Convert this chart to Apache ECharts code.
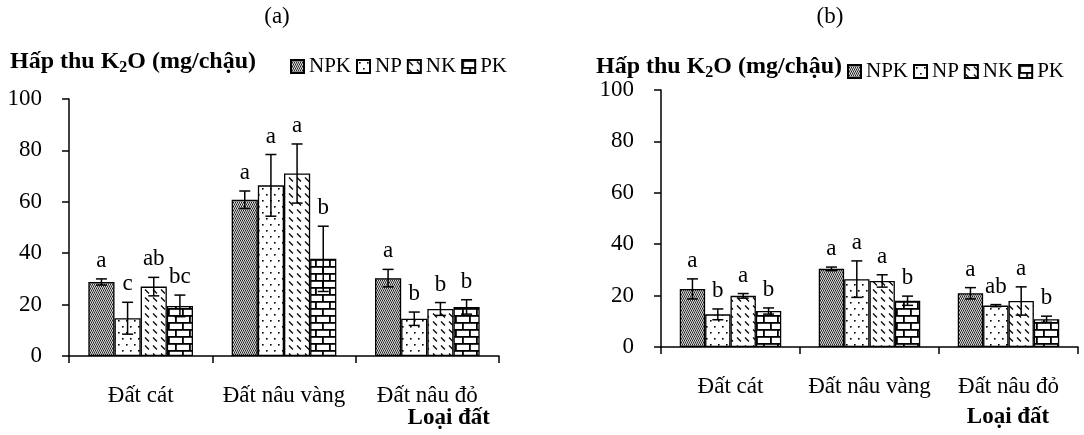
<!DOCTYPE html>
<html>
<head>
<meta charset="utf-8">
<script src="https://cdn.jsdelivr.net/npm/echarts@6/dist/echarts.min.js"></script>
<style>
  html, body { margin: 0; padding: 0; background: #fff; }
  #chart { width: 1084px; height: 435px; }
</style>
</head>
<body>
<div id="chart"></div>
<script>
// loại đất
const categories = ['Đất cát', 'Đất nâu vàng', 'Đất nâu đỏ'];
const seriesNames = ['NPK', 'NP', 'NK', 'PK'];
const yTicks = [0, 20, 40, 60, 80, 100];

// (a) hấp thu K2O
const npkA = [28.8, 60.8, 30.3];
const npA = [14.7, 66.4, 14.5];
const nkA = [27.0, 71.0, 18.3];
const pkA = [19.5, 37.8, 19.1];
const npkErrA = [1.2, 3.4, 3.4];
const npErrA = [6.2, 12.0, 2.6];
const nkErrA = [3.6, 11.5, 2.5];
const pkErrA = [4.2, 12.7, 2.8];
const npkLetA = ['a', 'a', 'a'];
const npLetA = ['c', 'a', 'b'];
const nkLetA = ['ab', 'a', 'b'];
const pkLetA = ['bc', 'b', 'b'];

// (b)
const npkB = [22.6, 30.4, 20.9];
const npB = [12.7, 26.4, 16.1];
const nkB = [19.9, 25.7, 17.9];
const pkB = [14.0, 18.0, 10.8];
const npkErrB = [3.9, 0.7, 2.2];
const npErrB = [2.1, 7.1, 0.4];
const nkErrB = [0.9, 2.4, 5.5];
const pkErrB = [1.2, 1.8, 1.2];
const npkLetB = ['a', 'a', 'a'];
const npLetB = ['b', 'a', 'ab'];
const nkLetB = ['a', 'a', 'a'];
const pkLetB = ['b', 'b', 'b'];

const FONT = '"Liberation Serif", "Times New Roman", serif';
const GAP = 0.27;

// hoa văn cột
function makePattern(w, h, draw) {
  const c = document.createElement('canvas');
  c.width = w; c.height = h;
  const ctx = c.getContext('2d');
  ctx.fillStyle = '#fff';
  ctx.fillRect(0, 0, w, h);
  draw(ctx);
  return { image: c, repeat: 'repeat' };
}
const patterns = [
  makePattern(4, 4, ctx => {
    ctx.fillStyle = '#8a8a8a';
    ctx.fillRect(0, 0, 4, 4);
    ctx.fillStyle = '#222';
    ctx.fillRect(0, 0, 1, 1); ctx.fillRect(2, 0, 1, 1);
    ctx.fillRect(1, 2, 1, 1); ctx.fillRect(3, 2, 1, 1);
    ctx.fillStyle = '#e0e0e0';
    ctx.fillRect(1, 0, 1, 1); ctx.fillRect(3, 0, 1, 1);
    ctx.fillRect(0, 2, 1, 1); ctx.fillRect(2, 2, 1, 1);
  }),
  makePattern(8, 12, ctx => {
    ctx.fillStyle = '#000';
    ctx.fillRect(2, 2, 1.6, 1.6);
    ctx.fillRect(6, 8, 1.6, 1.6);
  }),
  makePattern(8, 8, ctx => {
    ctx.strokeStyle = '#000';
    ctx.lineWidth = 1.3;
    ctx.beginPath();
    ctx.moveTo(1, 1.5); ctx.lineTo(5, 5.5);
    ctx.stroke();
  }),
  makePattern(14, 14, ctx => {
    ctx.fillStyle = '#000';
    ctx.fillRect(0, 0, 14, 1.8);
    ctx.fillRect(0, 7, 14, 1.8);
    ctx.fillRect(0, 0, 1.8, 7);
    ctx.fillRect(7, 7, 1.8, 7);
  })
];

const panels = [
  { vals: [npkA, npA, nkA, pkA], errs: [npkErrA, npErrA, nkErrA, pkErrA], lets: [npkLetA, npLetA, nkLetA, pkLetA] },
  { vals: [npkB, npB, nkB, pkB], errs: [npkErrB, npErrB, nkErrB, pkErrB], lets: [npkLetB, npLetB, nkLetB, pkLetB] }
];

const series = [];
panels.forEach((p, pi) => {
  seriesNames.forEach((name, si) => {
    series.push({
      name: name,
      type: 'bar',
      xAxisIndex: pi,
      yAxisIndex: pi,
      barGap: '0%',
      barCategoryGap: (GAP * 100) + '%',
      itemStyle: { color: patterns[si], borderColor: '#000', borderWidth: 1.3 },
      data: p.vals[si]
    });
  });
  const errData = [];
  const errLets = [];
  for (let si = 0; si < 4; si++) {
    for (let ci = 0; ci < categories.length; ci++) {
      errData.push([ci, si, p.vals[si][ci], p.errs[si][ci]]);
      errLets.push(p.lets[si][ci]);
    }
  }
  series.push({
    type: 'custom',
    xAxisIndex: pi,
    yAxisIndex: pi,
    z: 5,
    encode: { x: 0, y: 2 },
    data: errData,
    renderItem: function (params, api) {
      const cat = api.value(0), s = api.value(1), v = api.value(2), e = api.value(3);
      const c = api.coord([cat, v]);
      const band = api.size([1, 0])[0];
      const bw = band * (1 - GAP) / 4;
      const x = c[0] + (s - 1.5) * bw;
      const top = api.coord([cat, v + e])[1];
      const bot = api.coord([cat, v - e])[1];
      const cap = 5.5;
      const ln = { stroke: '#000', lineWidth: 1.5 };
      return {
        type: 'group',
        children: [
          { type: 'line', shape: { x1: x, y1: top, x2: x, y2: bot }, style: ln },
          { type: 'line', shape: { x1: x - cap, y1: top, x2: x + cap, y2: top }, style: ln },
          { type: 'line', shape: { x1: x - cap, y1: bot, x2: x + cap, y2: bot }, style: ln },
          {
            type: 'text', x: x, y: top - 18,
            style: { text: errLets[params.dataIndex], fill: '#000', fontSize: 23, fontFamily: FONT, align: 'center', verticalAlign: 'middle' }
          }
        ]
      };
    }
  });
});

const grids = [
  { left: 69, top: 99, width: 430, height: 257 },
  { left: 661, top: 90, width: 417, height: 257 }
];

function xAxisOf(i) {
  return {
    type: 'category',
    gridIndex: i,
    data: categories,
    axisLine: { lineStyle: { color: '#000', width: 1.5 } },
    axisTick: { show: true, length: 7, lineStyle: { color: '#000', width: 1.5 } },
    axisLabel: { color: '#000', fontSize: 23, fontFamily: FONT, margin: 28, interval: 0, hideOverlap: false }
  };
}
function yAxisOf(i) {
  return {
    type: 'value',
    gridIndex: i,
    min: yTicks[0],
    max: yTicks[yTicks.length - 1],
    interval: yTicks[1] - yTicks[0],
    axisLine: { show: true, lineStyle: { color: '#000', width: 1.5 } },
    axisTick: { show: true, length: 7, lineStyle: { color: '#000', width: 1.5 } },
    splitLine: { show: false },
    axisLabel: { color: '#000', fontSize: 23, fontFamily: FONT, margin: 27 }
  };
}

const titleRich = {
  b: { fontSize: 24, fontWeight: 'bold', fontFamily: FONT, fill: '#000' },
  s: { fontSize: 16, fontWeight: 'bold', fontFamily: FONT, fill: '#000', padding: [12, 0, 0, 0] }
};
const titleText = '{b|Hấp thu K}{s|2}{b|O (mg/chậu)}';

function legendOf(left, top) {
  return {
    data: seriesNames.map(n => ({ name: n, icon: 'rect' })),
    left: left,
    top: top,
    itemWidth: 13,
    itemHeight: 13,
    itemGap: 5,
    selectedMode: false,
    textStyle: { color: '#000', fontSize: 21, fontFamily: FONT }
  };
}

const chart = echarts.init(document.getElementById('chart'), null, { renderer: 'canvas' });
chart.setOption({
  animation: false,
  backgroundColor: '#fff',
  grid: grids,
  xAxis: [xAxisOf(0), xAxisOf(1)],
  yAxis: [yAxisOf(0), yAxisOf(1)],
  legend: [legendOf(285, 51), legendOf(842, 56)],
  series: series,
  graphic: [
    { type: 'text', x: 277, y: 17, style: { text: '(a)', fontSize: 23, fontFamily: FONT, fill: '#000', align: 'center', verticalAlign: 'middle' } },
    { type: 'text', x: 830, y: 17, style: { text: '(b)', fontSize: 23, fontFamily: FONT, fill: '#000', align: 'center', verticalAlign: 'middle' } },
    { type: 'text', x: 10, y: 62, style: { text: titleText, rich: titleRich, verticalAlign: 'middle' } },
    { type: 'text', x: 596, y: 67, style: { text: titleText, rich: titleRich, verticalAlign: 'middle' } },
    { type: 'text', x: 490, y: 418, style: { text: 'Loại đất', fontSize: 23, fontWeight: 'bold', fontFamily: FONT, fill: '#000', align: 'right', verticalAlign: 'middle' } },
    { type: 'text', x: 1008, y: 417, style: { text: 'Loại đất', fontSize: 23, fontWeight: 'bold', fontFamily: FONT, fill: '#000', align: 'center', verticalAlign: 'middle' } }
  ]
});
</script>
</body>
</html>
